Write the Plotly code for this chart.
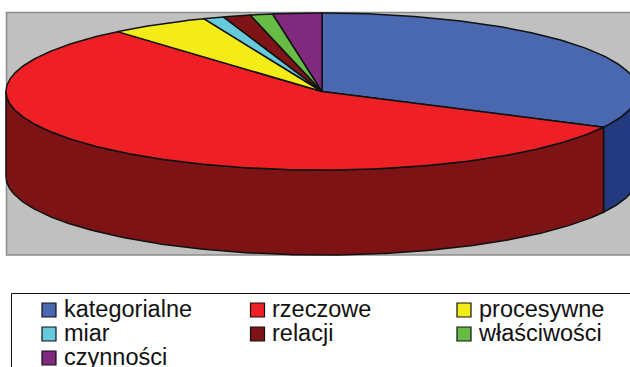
import numpy as np
import plotly.graph_objects as go

# Share of each term category, percent
categories = ["kategorialne", "rzeczowe", "procesywne", "miar", "relacji", "właściwości", "czynności"]
shares = [32.5, 56.3, 5.1, 1.05, 1.4, 1.15, 2.5]

top_colors = ["#4A68B0", "#EF2025", "#F3EC19", "#67C9DC", "#7F1416", "#67BC45", "#7F2A7F"]
wall_colors = ["#243A80", "#7D1315", "#7A7610", "#336570", "#400A0B", "#345E22", "#401540"]

# Projected pie geometry, in page pixels
CX, CY, RX, RY, DEPTH = 322.0, 91.5, 316.0, 78.5, 85.0
OUTLINE = dict(color="#111111", width=1.5)


def rim(a0, a1, drop=0.0):
    """Points on the ellipse between two clockwise-from-top angles in degrees."""
    t = np.radians(np.linspace(a0, a1, max(int((a1 - a0) * 2), 2) + 1))
    return CX + RX * np.sin(t), CY - RY * np.cos(t) + drop


fig = go.Figure()

edges = np.concatenate([[0.0], np.cumsum(shares)]) / sum(shares) * 360.0

# Side walls: only the part of each slice on the front half of the disc shows
for i, name in enumerate(categories):
    a0, a1 = max(edges[i], 90.0), min(edges[i + 1], 270.0)
    if a1 <= a0:
        continue
    xt, yt = rim(a0, a1)
    xb, yb = rim(a0, a1, DEPTH)
    fig.add_trace(go.Scatter(
        x=np.concatenate([xt, xb[::-1], xt[:1]]),
        y=np.concatenate([yt, yb[::-1], yt[:1]]),
        mode="lines", fill="toself", fillcolor=wall_colors[i],
        line=OUTLINE, showlegend=False, name=name, hoverinfo="name",
    ))

# Top faces
for i, name in enumerate(categories):
    xa, ya = rim(edges[i], edges[i + 1])
    fig.add_trace(go.Scatter(
        x=np.concatenate([[CX], xa, [CX]]),
        y=np.concatenate([[CY], ya, [CY]]),
        mode="lines", fill="toself", fillcolor=top_colors[i],
        line=OUTLINE, showlegend=False, name=name, hoverinfo="name",
    ))

# Key: three columns, filled row by row
swatch_x = [49, 257.5, 464]
label_x = [64, 272, 479]
row_y = [310, 334, 358]
label_y = [311.5, 335.5, 359.5]
for i, name in enumerate(categories):
    row, col = divmod(i, 3)
    fig.add_trace(go.Scatter(
        x=[swatch_x[col]], y=[row_y[row]], mode="markers",
        marker=dict(symbol="square", size=14, color=top_colors[i],
                    line=dict(color="#111111", width=1.2)),
        showlegend=False, name=name, hoverinfo="name",
    ))
    fig.add_trace(go.Scatter(
        x=[label_x[col]], y=[label_y[row]], mode="text", text=[name],
        textposition="middle right",
        textfont=dict(family="Liberation Sans", size=23.5, color="#111111"),
        showlegend=False, hoverinfo="skip",
    ))

fig.update_layout(
    width=630, height=367, autosize=False,
    margin=dict(l=0, r=0, t=0, b=0),
    paper_bgcolor="white", plot_bgcolor="white",
    xaxis=dict(range=[0, 630], visible=False, fixedrange=True),
    yaxis=dict(range=[367, 0], visible=False, fixedrange=True),
    shapes=[
        dict(type="rect", xref="x", yref="y", x0=6.5, x1=640, y0=12.5, y1=255,
             fillcolor="#C0C0C0", line=dict(color="#8C8C8C", width=1.5), layer="below"),
        dict(type="rect", xref="x", yref="y", x0=11.5, x1=640, y0=293.5, y1=380,
             fillcolor="white", line=dict(color="#111111", width=1), layer="below"),
    ],
)

fig.write_html("out.html", config=dict(displayModeBar=False))
